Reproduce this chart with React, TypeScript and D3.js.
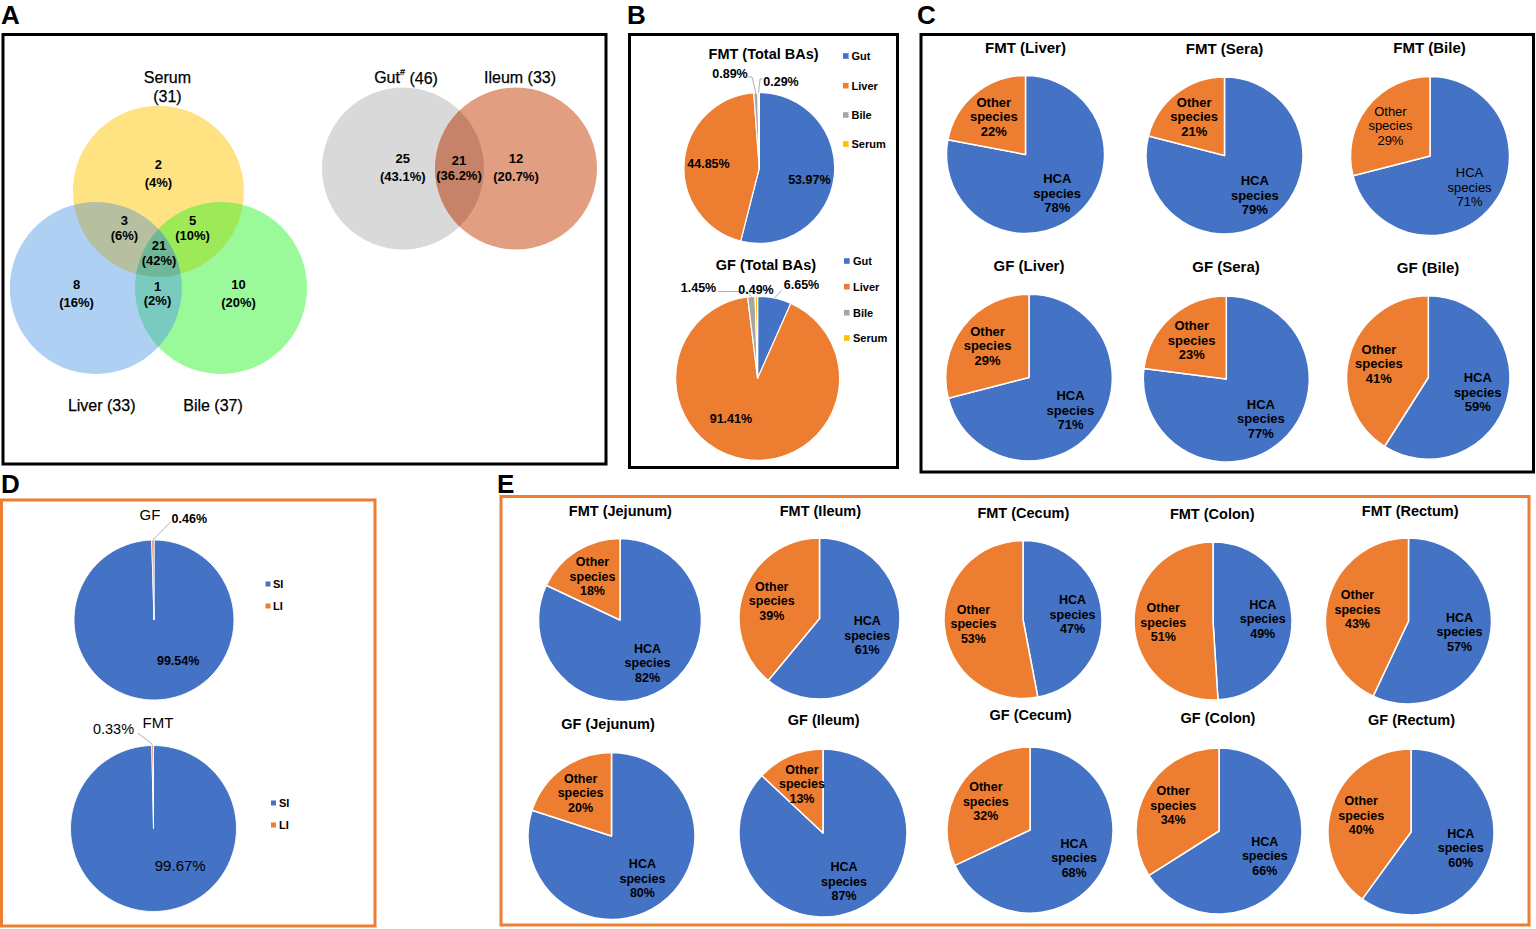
import React from "react";
import * as d3 from "d3";

const FONT = "'Liberation Sans', Arial, Helvetica, sans-serif";
const BLUE = "#4472C4";
const ORANGE = "#ED7D31";
const GRAY = "#A5A5A5";
const GOLD = "#FFC000";
const LEADER = "#A6A6A6";

// ---------- Panel A data ----------
const venn3Sets = ["Serum", "Liver", "Bile"];
const venn3Totals = [31, 33, 37];
const venn3Regions = ["S", "L", "B", "SL", "SB", "LB", "SLB"];
const venn3Counts = [2, 8, 10, 3, 5, 1, 21];
const venn2Sets = ["Gut", "Ileum"];
const venn2Totals = [46, 33];
const venn2Regions = ["Gut only", "Both", "Ileum only"];
const venn2Counts = [25, 21, 12];

// ---------- Panel B data ----------
const baSources = ["Gut", "Liver", "Bile", "Serum"];
const fmtTotalBAs = [53.97, 44.85, 0.89, 0.29];
const gfTotalBAs = [6.65, 91.41, 1.45, 0.49];

// ---------- Panel C data ----------
const cSamples = ["Liver", "Sera", "Bile"];
const cFmtHCA = [78, 79, 71];
const cGfHCA = [71, 77, 59];

// ---------- Panel D data ----------
const dGroups = ["GF", "FMT"];
const dParts = ["SI", "LI"];
const dSI = [99.54, 99.67];
const dLI = [0.46, 0.33];

// ---------- Panel E data ----------
const eSegments = ["Jejunum", "Ileum", "Cecum", "Colon", "Rectum"];
const eFmtHCA = [82, 61, 47, 49, 57];
const eGfHCA = [80, 87, 68, 66, 60];

// ---------- helpers ----------
const pieGen = d3.pie<number>().sort(null).value((d) => d);
const polar = (cx: number, cy: number, deg: number, dist: number): [number, number] => {
  const a = (deg * Math.PI) / 180;
  return [cx + dist * Math.sin(a), cy - dist * Math.cos(a)];
};
const midDeg = (a: d3.PieArcDatum<number>) => (((a.startAngle + a.endAngle) / 2) * 180) / Math.PI;

function PieSlices({ cx, cy, r, values, colors, sw = 1.5 }: any) {
  const arcs = pieGen(values);
  const arcGen = d3.arc<d3.PieArcDatum<number>>().innerRadius(0).outerRadius(r);
  return (
    <g transform={`translate(${cx},${cy})`}>
      {arcs.map((a, i) => (
        <path key={i} d={arcGen(a) || ""} fill={colors[i]} stroke="#fff" strokeWidth={sw} strokeLinejoin="round" />
      ))}
    </g>
  );
}

function SpeciesPie({ cx, cy, r, hca, title, tx, ty, titleSize = 15, titleWeight = "bold", labelWeight = "bold", labelSize = 13, lh = 14.5 }: any) {
  const values = [hca, 100 - hca];
  const arcs = pieGen(values);
  const lab = d3.arc<d3.PieArcDatum<number>>().innerRadius(r * 0.63).outerRadius(r * 0.63);
  const names = ["HCA", "Other"];
  return (
    <g>
      <text x={tx} y={ty} textAnchor="middle" dominantBaseline="central" fontSize={titleSize} fontWeight={titleWeight}>
        {title}
      </text>
      <PieSlices cx={cx} cy={cy} r={r} values={values} colors={[BLUE, ORANGE]} />
      {arcs.map((a, i) => {
        const [x, y] = lab.centroid(a);
        const lines = [names[i], "species", `${values[i]}%`];
        return (
          <text key={i} textAnchor="middle" dominantBaseline="central" fontSize={labelSize} fontWeight={labelWeight} fill="#000">
            {lines.map((t, j) => (
              <tspan key={j} x={cx + x} y={cy + y + (j - 1) * lh}>
                {t}
              </tspan>
            ))}
          </text>
        );
      })}
    </g>
  );
}

// ---------- Panel A ----------
function PanelA() {
  const c3 = [
    { cx: 158.4, cy: 191.3, r: 85.5 },
    { cx: 95.8, cy: 288, r: 86 },
    { cx: 221, cy: 288, r: 86 },
  ];
  const fill3 = ["#FFE383", "#AED0F2", "#9AFA9A"];
  const fillSL = "#B6C0A1";
  const fillSB = "#9DE958";
  const fillLB = "#79CABF";
  const fillSLB = "#70B697";
  const total3 = d3.sum(venn3Counts);
  const fmt0 = d3.format(".0%");
  const pos3: [number, number, number][] = [
    [158.4, 164, 182.5],
    [76.5, 284, 302.5],
    [238.6, 284, 302.5],
    [124.4, 220, 235.5],
    [192.5, 220, 235.5],
    [157.5, 286, 300.5],
    [159, 245, 260],
  ];
  const c2 = [
    { cx: 403, cy: 168.5, r: 81 },
    { cx: 516, cy: 168.5, r: 81 },
  ];
  const total2 = d3.sum(venn2Counts);
  const fmt1 = d3.format(".1%");
  const pos2: [number, number, number][] = [
    [402.8, 158.3, 176],
    [459, 160, 175.5],
    [516, 158.3, 176],
  ];
  const circ = (c: any, f: string) => <circle cx={c.cx} cy={c.cy} r={c.r} fill={f} />;
  return (
    <g>
      <defs>
        {c3.map((c, i) => (
          <clipPath id={`v3c${i}`} key={i}>
            <circle cx={c.cx} cy={c.cy} r={c.r} />
          </clipPath>
        ))}
        <clipPath id="v2c0">
          <circle cx={c2[0].cx} cy={c2[0].cy} r={c2[0].r} />
        </clipPath>
      </defs>
      {c3.map((c, i) => (
        <g key={i}>{circ(c, fill3[i])}</g>
      ))}
      <g clipPath="url(#v3c0)">{circ(c3[1], fillSL)}</g>
      <g clipPath="url(#v3c0)">{circ(c3[2], fillSB)}</g>
      <g clipPath="url(#v3c1)">{circ(c3[2], fillLB)}</g>
      <g clipPath="url(#v3c0)">
        <g clipPath="url(#v3c1)">{circ(c3[2], fillSLB)}</g>
      </g>
      {venn3Regions.map((reg, i) => (
        <g key={reg} fontSize={13} fontWeight="bold" textAnchor="middle">
          <text x={pos3[i][0]} y={pos3[i][1]} dominantBaseline="central">
            {venn3Counts[i]}
          </text>
          <text x={pos3[i][0]} y={pos3[i][2]} dominantBaseline="central">
            ({fmt0(venn3Counts[i] / total3)})
          </text>
        </g>
      ))}
      <g fontSize={16} textAnchor="middle" stroke="#000" strokeWidth={0.25}>
        <text x={167.4} y={77.7} dominantBaseline="central">{venn3Sets[0]}</text>
        <text x={167.4} y={96.7} dominantBaseline="central">({venn3Totals[0]})</text>
        <text x={101.7} y={405} dominantBaseline="central">{`${venn3Sets[1]} (${venn3Totals[1]})`}</text>
        <text x={213} y={405} dominantBaseline="central">{`${venn3Sets[2]} (${venn3Totals[2]})`}</text>
        <text x={406} y={77.7} dominantBaseline="central">
          {venn2Sets[0]}
          <tspan fontSize={9} dy={-6}>#</tspan>
          <tspan dy={6}>{` (${venn2Totals[0]})`}</tspan>
        </text>
        <text x={520} y={77.7} dominantBaseline="central">{`${venn2Sets[1]} (${venn2Totals[1]})`}</text>
      </g>
      {circ(c2[0], "#D9D9D9")}
      {circ(c2[1], "#E29E80")}
      <g clipPath="url(#v2c0)">{circ(c2[1], "#C6836A")}</g>
      {venn2Regions.map((reg, i) => (
        <g key={reg} fontSize={13} fontWeight="bold" textAnchor="middle">
          <text x={pos2[i][0]} y={pos2[i][1]} dominantBaseline="central">
            {venn2Counts[i]}
          </text>
          <text x={pos2[i][0]} y={pos2[i][2]} dominantBaseline="central">
            ({fmt1(venn2Counts[i] / total2)})
          </text>
        </g>
      ))}
      <rect x={3} y={34.5} width={603} height={429.5} fill="none" stroke="#000" strokeWidth={3} />
    </g>
  );
}

// ---------- Panel B ----------
function TotalPie({ cx, cy, r, values, title, tx, ty, inner, outer, legendX, legendTextX, legendYs }: any) {
  const colors = [BLUE, ORANGE, GRAY, GOLD];
  const arcs = pieGen(values);
  const fmt = (v: number) => `${v.toFixed(2)}%`;
  return (
    <g>
      <text x={tx} y={ty} textAnchor="middle" dominantBaseline="central" fontSize={14.5} fontWeight="bold">
        {title}
      </text>
      <PieSlices cx={cx} cy={cy} r={r} values={values} colors={colors} sw={1.2} />
      {inner.map((o: any) => {
        const [x, y] = polar(cx, cy, o.deg, o.dist);
        return (
          <text key={o.i} x={x} y={y} textAnchor="middle" dominantBaseline="central" fontSize={12.5} fontWeight="bold">
            {fmt(values[o.i])}
          </text>
        );
      })}
      {outer.map((o: any) => {
        const a = arcs[o.i];
        const start = polar(cx, cy, midDeg(a), r);
        const pts = [start, ...o.path];
        return (
          <g key={o.i}>
            {o.path.length > 0 && (
              <polyline points={pts.map((p: number[]) => p.join(",")).join(" ")} fill="none" stroke={LEADER} strokeWidth={0.9} />
            )}
            <text x={o.x} y={o.y} textAnchor="middle" dominantBaseline="central" fontSize={12.5} fontWeight="bold">
              {fmt(values[o.i])}
            </text>
          </g>
        );
      })}
      {baSources.map((s, i) => (
        <g key={s}>
          <rect x={legendX} y={legendYs[i] - 2.8} width={5.6} height={5.6} fill={colors[i]} />
          <text x={legendTextX} y={legendYs[i]} dominantBaseline="central" fontSize={11} fontWeight="bold">
            {s}
          </text>
        </g>
      ))}
    </g>
  );
}

function PanelB() {
  return (
    <g>
      <TotalPie
        cx={759.3}
        cy={168}
        r={75.4}
        values={fmtTotalBAs}
        title="FMT (Total BAs)"
        tx={763.6}
        ty={54}
        inner={[
          { i: 0, deg: 104, dist: 51.6 },
          { i: 1, deg: 275, dist: 51 },
        ]}
        outer={[
          { i: 2, x: 730, y: 74, path: [[752, 77], [748, 77]] },
          { i: 3, x: 781, y: 82.3, path: [[760, 79], [762.5, 79]] },
        ]}
        legendX={843}
        legendTextX={851.5}
        legendYs={[56, 85.7, 115, 144]}
      />
      <TotalPie
        cx={757.6}
        cy={378.3}
        r={82}
        values={gfTotalBAs}
        title="GF (Total BAs)"
        tx={766}
        ty={265}
        inner={[{ i: 1, deg: 213, dist: 49 }]}
        outer={[
          { i: 0, x: 801.5, y: 285, path: [[781.5, 290.5]] },
          { i: 2, x: 698.5, y: 288, path: [[747, 291.5], [718, 291.5]] },
          { i: 3, x: 756, y: 290, path: [] },
        ]}
        legendX={844}
        legendTextX={853}
        legendYs={[261, 286.7, 312.7, 338]}
      />
      <rect x={629.5} y={34.5} width={268} height={433} fill="none" stroke="#000" strokeWidth={3} />
    </g>
  );
}

// ---------- Panel C ----------
function PanelC() {
  const fmtLay = [
    { cx: 1025.5, cy: 154.5, r: 79, tx: 1025.5, ty: 47 },
    { cx: 1224.5, cy: 155.5, r: 78.5, tx: 1224.5, ty: 48.5 },
    { cx: 1430, cy: 156, r: 79.5, tx: 1429.5, ty: 47.5 },
  ];
  const gfLay = [
    { cx: 1029, cy: 377.5, r: 83.3, tx: 1029, ty: 265.5 },
    { cx: 1226.3, cy: 379, r: 83, tx: 1226, ty: 266.5 },
    { cx: 1428.3, cy: 377.5, r: 81.7, tx: 1428, ty: 267 },
  ];
  return (
    <g>
      {cSamples.map((s, i) => (
        <SpeciesPie key={"f" + s} {...fmtLay[i]} hca={cFmtHCA[i]} title={`FMT (${s})`} labelWeight={s === "Bile" ? "normal" : "bold"} />
      ))}
      {cSamples.map((s, i) => (
        <SpeciesPie key={"g" + s} {...gfLay[i]} hca={cGfHCA[i]} title={`GF (${s})`} />
      ))}
      <rect x={921} y={34.5} width={612.5} height={437.5} fill="none" stroke="#000" strokeWidth={3} />
    </g>
  );
}

// ---------- Panel D ----------
function PanelD() {
  const lay = [
    {
      cx: 154, cy: 620, r: 80, tx: 150, ty: 514,
      small: { x: 189.3, y: 519, size: 12.5, weight: "bold", path: [[170.5, 522]] },
      big: { deg: 149.5, dist: 47.6, size: 12.5, weight: "bold" },
      legX: 265.5, legTX: 273, legY: [584, 606],
    },
    {
      cx: 153.5, cy: 828.5, r: 83, tx: 158, ty: 722,
      small: { x: 113.5, y: 729, size: 14.5, weight: "normal", path: [[151, 743], [137.5, 733]] },
      big: { deg: 144.3, dist: 45.8, size: 15, weight: "normal" },
      legX: 271, legTX: 279, legY: [803, 825],
    },
  ];
  const fmt = (v: number) => `${v.toFixed(2)}%`;
  return (
    <g>
      {dGroups.map((g, i) => {
        const L = lay[i];
        const values = [dSI[i], dLI[i]];
        const arcs = pieGen(values);
        const start = polar(L.cx, L.cy, midDeg(arcs[1]), L.r);
        const [bx, by] = polar(L.cx, L.cy, L.big.deg, L.big.dist);
        return (
          <g key={g}>
            <text x={L.tx} y={L.ty} textAnchor="middle" dominantBaseline="central" fontSize={15}>
              {g}
            </text>
            <PieSlices cx={L.cx} cy={L.cy} r={L.r} values={values} colors={[BLUE, ORANGE]} sw={0.9} />
            <polyline points={[start, ...L.small.path].map((p: any) => p.join(",")).join(" ")} fill="none" stroke={LEADER} strokeWidth={0.9} />
            <text x={L.small.x} y={L.small.y} textAnchor="middle" dominantBaseline="central" fontSize={L.small.size} fontWeight={L.small.weight}>
              {fmt(values[1])}
            </text>
            <text x={bx} y={by} textAnchor="middle" dominantBaseline="central" fontSize={L.big.size} fontWeight={L.big.weight}>
              {fmt(values[0])}
            </text>
            {dParts.map((p, j) => (
              <g key={p}>
                <rect x={L.legX} y={L.legY[j] - 2.5} width={5} height={5} fill={[BLUE, ORANGE][j]} />
                <text x={L.legTX} y={L.legY[j]} dominantBaseline="central" fontSize={11} fontWeight="bold">
                  {p}
                </text>
              </g>
            ))}
          </g>
        );
      })}
      <rect x={1.5} y={500} width={373.5} height={426} fill="none" stroke={ORANGE} strokeWidth={3} />
    </g>
  );
}

// ---------- Panel E ----------
function PanelE() {
  const fmtLay = [
    { cx: 620, cy: 620, r: 81.5, tx: 620.4, ty: 510.7 },
    { cx: 819.5, cy: 618.5, r: 80.5, tx: 820.4, ty: 510.7 },
    { cx: 1023, cy: 619.5, r: 79, tx: 1023.3, ty: 513.3 },
    { cx: 1213, cy: 621, r: 79, tx: 1212.2, ty: 514 },
    { cx: 1408.5, cy: 621, r: 83, tx: 1410.2, ty: 510.7 },
  ];
  const gfLay = [
    { cx: 611.5, cy: 836, r: 83.5, tx: 608, ty: 723.7 },
    { cx: 823, cy: 833, r: 84, tx: 823.7, ty: 720.3 },
    { cx: 1030, cy: 830, r: 83, tx: 1030.6, ty: 715.3 },
    { cx: 1219, cy: 831, r: 83, tx: 1218, ty: 717.6 },
    { cx: 1411, cy: 832, r: 83, tx: 1411.5, ty: 719.7 },
  ];
  return (
    <g>
      {eSegments.map((s, i) => (
        <SpeciesPie key={"f" + s} {...fmtLay[i]} hca={eFmtHCA[i]} title={`FMT (${s})`} titleSize={14.5} titleWeight="bold" labelSize={12.5} />
      ))}
      {eSegments.map((s, i) => (
        <SpeciesPie key={"g" + s} {...gfLay[i]} hca={eGfHCA[i]} title={`GF (${s})`} titleSize={14.5} titleWeight="bold" labelSize={12.5} />
      ))}
      <rect x={501} y={496.5} width={1028} height={428.5} fill="none" stroke={ORANGE} strokeWidth={3} />
    </g>
  );
}

export default function App() {
  const letters = [
    { t: "A", x: 1, y: 24 },
    { t: "B", x: 627, y: 24 },
    { t: "C", x: 917, y: 24 },
    { t: "D", x: 1, y: 493 },
    { t: "E", x: 497, y: 493 },
  ];
  return (
    <svg width={1536} height={929} style={{ position: "absolute", left: 0, top: 0 }} fontFamily={FONT}>
      <rect width={1536} height={929} fill="#fff" />
      {letters.map((l) => (
        <text key={l.t} x={l.x} y={l.y} fontSize={26} fontWeight="bold">
          {l.t}
        </text>
      ))}
      <PanelA />
      <PanelB />
      <PanelC />
      <PanelD />
      <PanelE />
    </svg>
  );
}
